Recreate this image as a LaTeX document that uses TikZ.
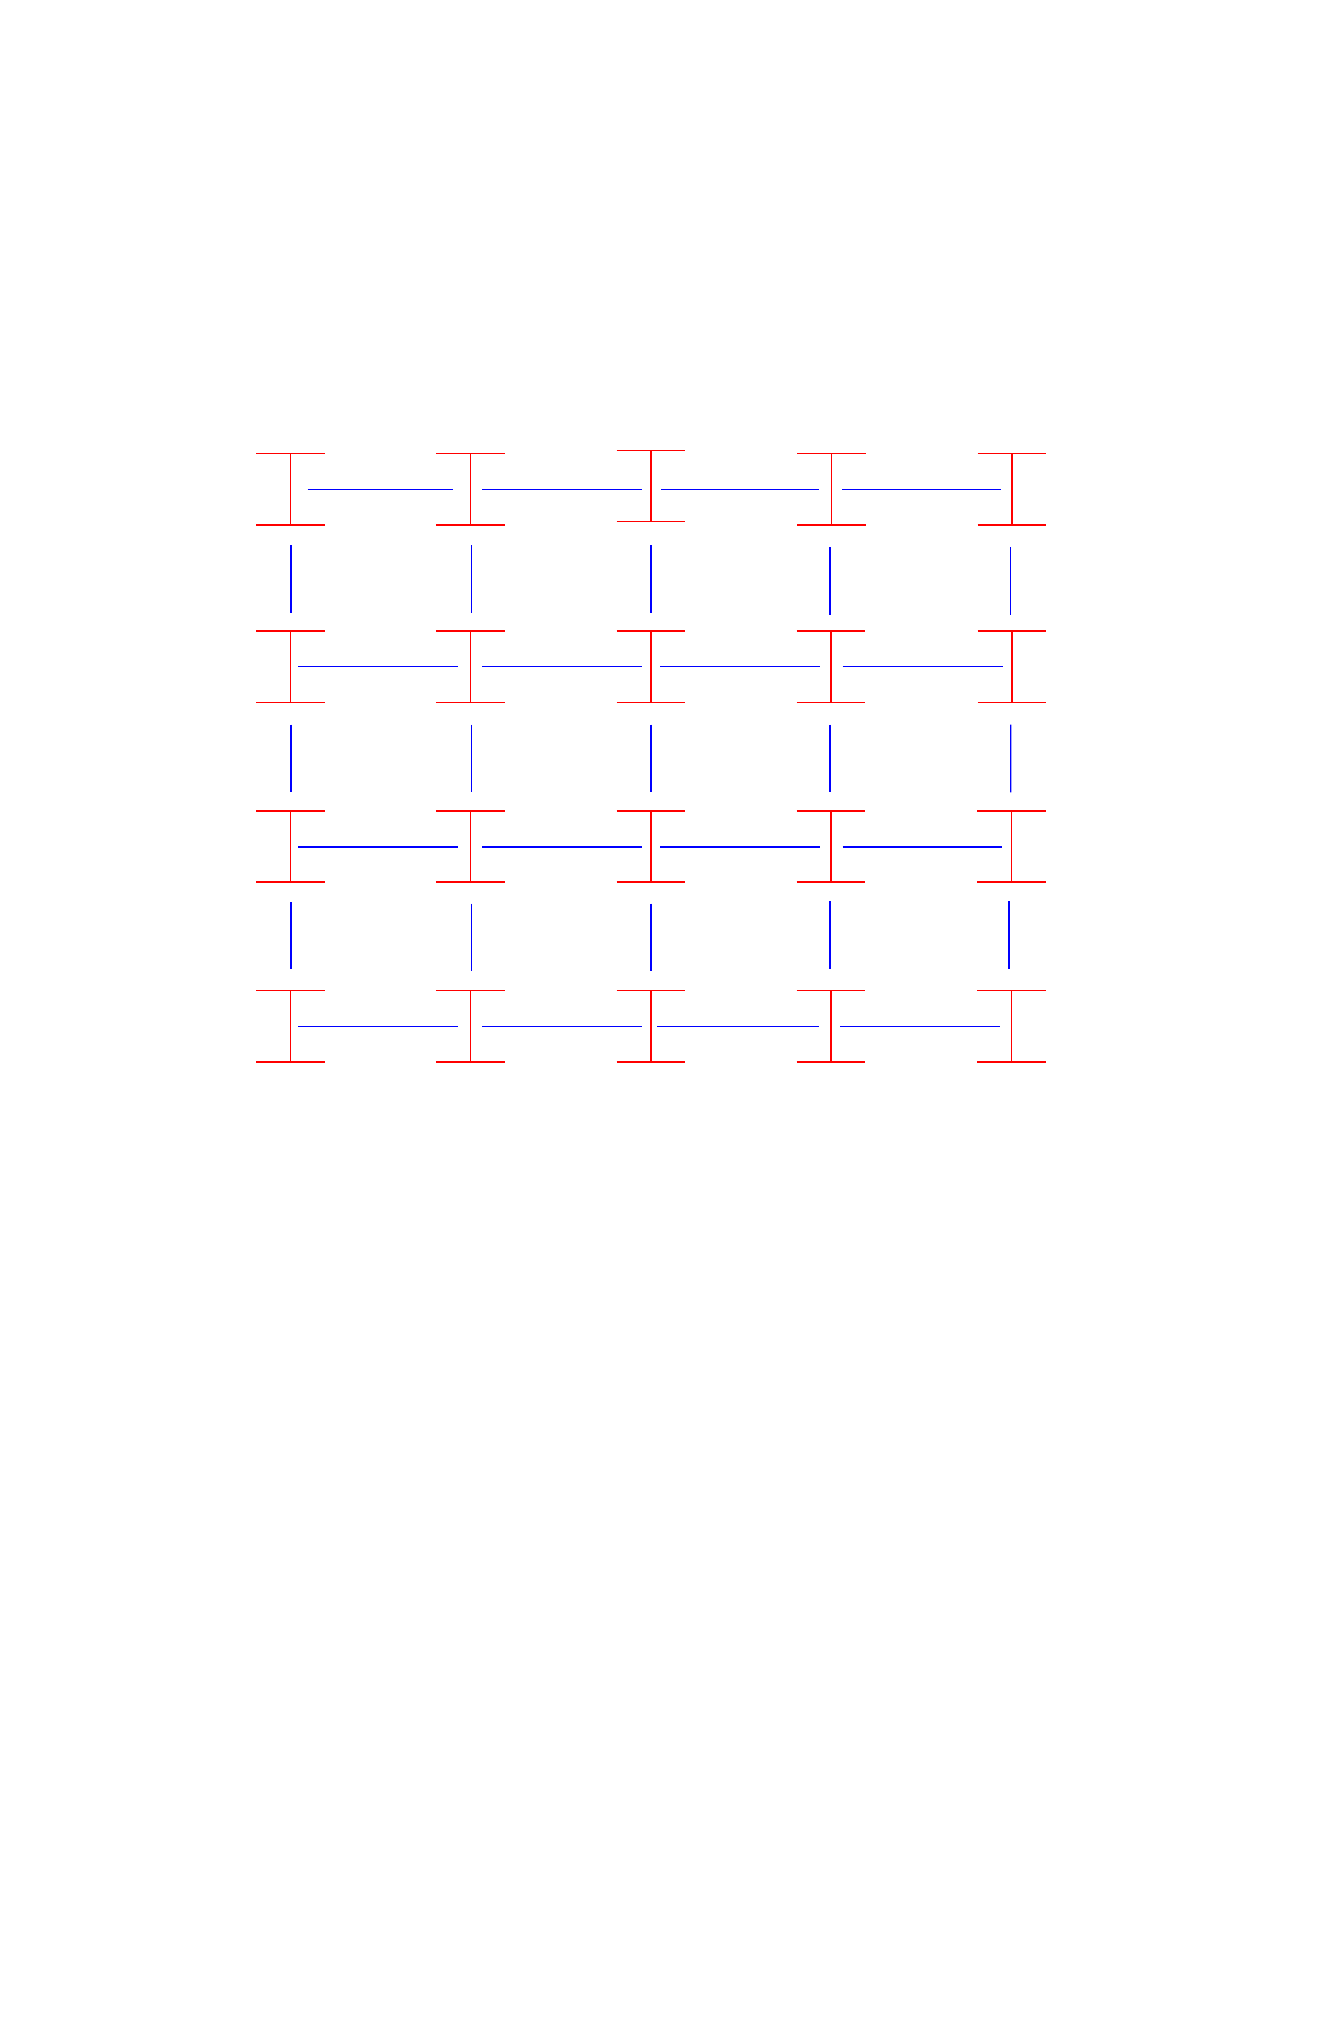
\documentclass[tikz,border=0pt]{standalone}
\usepackage{tikz}
\usetikzlibrary{calc}
\tikzset{
  column/.style={rectangle, inner sep=0pt, minimum width=1.36cm, minimum height=1.41cm},
  flange/.style={draw=red, line width=0.85pt},
  beam/.style={draw=blue, line width=0.75pt}
}
% I-shaped column: named node plus its two flanges and web
\newcommand{\icol}[2]{%
  \node[column] (#1) at (#2) {};
  \draw[flange] (#1.north west) -- (#1.north east) (#1.north) -- (#1.south) (#1.south west) -- (#1.south east);}

\begin{document}
\begin{tikzpicture}[x=0.02cm, y=-0.02cm]
  \useasboundingbox (0,0) rectangle (1320,2040);

  % columns
  \icol{c11}{290.7,489.3}
  \icol{c12}{470.3,489.3}
  \icol{c13}{651,486}
  \icol{c14}{831.7,489.3}
  \icol{c15}{1012,489.3}
  \icol{c21}{290.7,666.8}
  \icol{c22}{470.3,666.8}
  \icol{c23}{651,666.8}
  \icol{c24}{831,666.8}
  \icol{c25}{1012,666.8}
  \icol{c31}{290.7,846.6}
  \icol{c32}{470.3,846.6}
  \icol{c33}{651,846.6}
  \icol{c34}{831,846.6}
  \icol{c35}{1011.7,846.6}
  \icol{c41}{290.7,1026.3}
  \icol{c42}{470.3,1026.3}
  \icol{c43}{651,1026.3}
  \icol{c44}{831,1026.3}
  \icol{c45}{1011.7,1026.3}

  % beams along the rows
  \draw[beam] ($(c11)+(17,0)$) -- ($(c12)+(-17,0)$);
  \draw[beam] ($(c12)+(12,0)$) -- ($(c12 -| c13)+(-9.3,0)$);
  \draw[beam] ($(c12 -| c13)+(10,0)$) -- ($(c14)+(-12.7,0)$);
  \draw[beam] ($(c14)+(10.3,0)$) -- ($(c15)+(-11,0)$);

  \draw[beam] ($(c21)+(7.6,0)$) -- ($(c22)+(-12.6,0)$);
  \draw[beam] ($(c22)+(12,0)$) -- ($(c23)+(-9.3,0)$);
  \draw[beam] ($(c23)+(9,0)$) -- ($(c24)+(-11,0)$);
  \draw[beam] ($(c24)+(11.7,0)$) -- ($(c25)+(-9.3,0)$);

  \draw[beam] ($(c31)+(7.6,0.4)$) -- ($(c32)+(-12.6,0.4)$);
  \draw[beam] ($(c32)+(12,0.4)$) -- ($(c33)+(-9.3,0.4)$);
  \draw[beam] ($(c33)+(9,0.4)$) -- ($(c34)+(-11,0.4)$);
  \draw[beam] ($(c34)+(11.7,0.4)$) -- ($(c35)+(-9.4,0.4)$);

  \draw[beam] ($(c41)+(7.6,0.4)$) -- ($(c42)+(-12.6,0.4)$);
  \draw[beam] ($(c42)+(12,0.4)$) -- ($(c43)+(-9.3,0.4)$);
  \draw[beam] ($(c43)+(6.3,0.4)$) -- ($(c44)+(-11.7,0.4)$);
  \draw[beam] ($(c44)+(9,0.4)$) -- ($(c45)+(-11.7,0.4)$);

  % beams down the columns
  \draw[beam] ($(c11.south)+(0.3,20.3)$) -- ($(c21.north)+(0.3,-18.2)$);
  \draw[beam] ($(c12.south)+(1.4,20.3)$) -- ($(c22.north)+(1.4,-18.2)$);
  \draw[beam] ($(c13.south)+(0,23.8)$) -- ($(c23.north)+(0,-18.2)$);
  \draw[beam] ($(c14.south)+(-1.7,22.4)$) -- ($(c24.north)+(-1,-16.2)$);
  \draw[beam] ($(c15.south)+(-1.3,22.4)$) -- ($(c25.north)+(-1.3,-16.2)$);

  \draw[beam] ($(c21.south)+(0.3,22.3)$) -- ($(c31.north)+(0.3,-18.6)$);
  \draw[beam] ($(c22.south)+(1.4,22.3)$) -- ($(c32.north)+(1.4,-18.6)$);
  \draw[beam] ($(c23.south)+(0,22.3)$) -- ($(c33.north)+(0,-18.6)$);
  \draw[beam] ($(c24.south)+(-1,22.3)$) -- ($(c34.north)+(-1,-18.6)$);
  \draw[beam] ($(c25.south)+(-1.3,22.3)$) -- ($(c35.north)+(-1,-18.6)$);

  \draw[beam] ($(c31.south)+(0.3,19.8)$) -- ($(c41.north)+(0.3,-21.7)$);
  \draw[beam] ($(c32.south)+(1.4,21.4)$) -- ($(c42.north)+(1.4,-19.3)$);
  \draw[beam] ($(c33.south)+(0,21.4)$) -- ($(c43.north)+(0,-19.3)$);
  \draw[beam] ($(c34.south)+(-1,18.8)$) -- ($(c44.north)+(-1,-22)$);
  \draw[beam] ($(c35.south)+(-2.7,18.8)$) -- ($(c45.north)+(-2.7,-22)$);
\end{tikzpicture}
\end{document}
